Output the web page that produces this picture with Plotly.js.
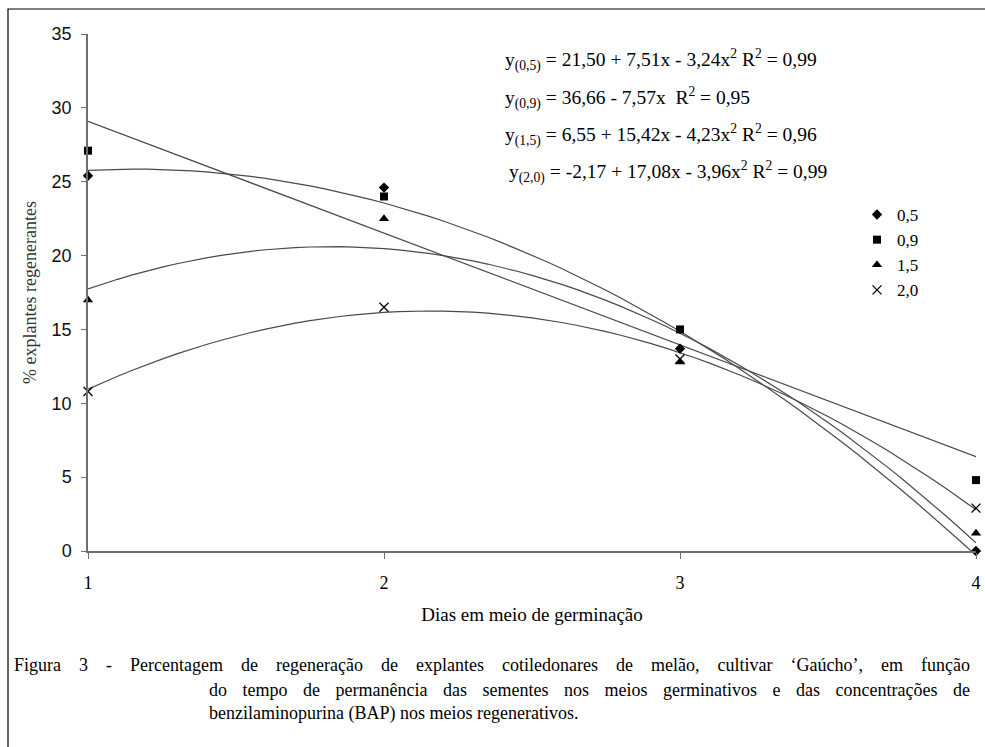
<!DOCTYPE html>
<html>
<head>
<meta charset="utf-8">
<script src="https://cdn.plot.ly/plotly-3.0.1.min.js"></script>
<style>html,body{margin:0;padding:0;background:#fff;}#chart{width:985px;height:747px;}</style>
</head>
<body>
<div id="chart"></div>
<script>
// ---- data ----
const days = [1, 2, 3, 4];
const conc = ['0,5', '0,9', '1,5', '2,0'];
const y05 = [25.4, 24.6, 13.7, 0.0];
const y09 = [27.1, 24.0, 15.0, 4.8];
const y15 = [17.0, 22.5, 12.8, 1.2];
const y20 = [10.8, 16.5, 13.0, 2.9];
// regression coefficients shown on the chart (a + b x + c x^2)
const coef05 = [21.50, 7.51, -3.24];
const coef09 = [36.66, -7.57, 0];
const coef15 = [6.55, 15.42, -4.23];
const coef20 = [-2.17, 17.08, -3.96];
const equations = [
  'y<sub>(0,5)</sub> = 21,50 + 7,51x - 3,24x<sup>2</sup> R<sup>2</sup> = 0,99',
  'y<sub>(0,9)</sub> = 36,66 - 7,57x &nbsp;R<sup>2</sup> = 0,95',
  'y<sub>(1,5)</sub> = 6,55 + 15,42x - 4,23x<sup>2</sup> R<sup>2</sup> = 0,96',
  'y<sub>(2,0)</sub> = -2,17 + 17,08x - 3,96x<sup>2</sup> R<sup>2</sup> = 0,99'
];
const xTitle = 'Dias em meio de germinação';
const yTitle = '% explantes regenerantes';
const caption = [
  'Figura 3 - Percentagem de regeneração de explantes cotiledonares de melão, cultivar ‘Gaúcho’, em função',
  'do tempo de permanência das sementes nos meios germinativos e das concentrações de',
  'benzilaminopurina (BAP) nos meios regenerativos.'
];

// ---- layout geometry ----
const W = 985, H = 747;
const M = {l: 88, r: 9, t: 34, b: 196};
const PW = W - M.l - M.r, PH = H - M.t - M.b;
const px = v => (v - M.l) / PW;
const py = v => (H - M.b - v) / PH;

const serif = '"Liberation Serif", Tinos, "Times New Roman", "DejaVu Serif", serif';
const sans = '"Liberation Sans", Arial, sans-serif';

function curve(c) {
  const xs = [], ys = [];
  for (let i = 0; i <= 60; i++) {
    const x = days[0] + (days[3] - days[0]) * i / 60;
    xs.push(x); ys.push(c[0] + c[1] * x + c[2] * x * x);
  }
  return {x: xs, y: ys};
}

const traces = [];
[coef05, coef09, coef15, coef20].forEach(c => {
  const cv = curve(c);
  traces.push({x: cv.x, y: cv.y, mode: 'lines', type: 'scatter', showlegend: false,
    hoverinfo: 'skip', line: {color: '#4a4a4a', width: 1.2}, cliponaxis: false});
});
const series = [y05, y09, y15, y20];
const symbols = ['diamond', 'square', 'triangle-up', 'x-thin-open'];
const sizes = [8, 8, 9, 9];
series.forEach((s, i) => {
  const mk = {symbol: symbols[i], size: sizes[i], color: '#000'};
  if (symbols[i] === 'x-thin-open') mk.line = {color: '#333', width: 1.3};
  traces.push({x: days, y: s, mode: 'markers', type: 'scatter', name: conc[i],
    legendgroup: 'g' + i, marker: mk, cliponaxis: false});
});

const annotations = equations.map((t, i) => ({
  text: t, xref: 'paper', yref: 'paper', x: px(i === 3 ? 507 : 503), y: py([60, 98, 135, 172][i]),
  xanchor: 'left', yanchor: 'middle', showarrow: false,
  font: {family: serif, size: 19.5, color: '#000'}
}));
caption.forEach((t, i) => {
  annotations.push({text: t, xref: 'paper', yref: 'paper', x: px(i === 0 ? 12 : 207),
    y: py([665, 690, 713][i]), xanchor: 'left', yanchor: 'middle', showarrow: false,
    font: {family: serif, size: 18, color: '#000'}});
});

const layout = {
  width: W, height: H,
  margin: M,
  paper_bgcolor: '#fff', plot_bgcolor: '#fff',
  showlegend: true,
  legend: {x: px(857), y: py(197), xanchor: 'left', yanchor: 'top',
    font: {family: serif, size: 17, color: '#000'}, tracegroupgap: 0,
    bgcolor: 'rgba(0,0,0,0)', itemwidth: 30},
  xaxis: {range: [1, 4], tickvals: days, ticktext: days.map(String),
    showline: true, linecolor: '#6e6e6e', linewidth: 1.5, showgrid: false, zeroline: false,
    ticks: 'outside', ticklen: 6, tickcolor: '#6e6e6e', tickwidth: 1, ticklabelstandoff: 9,
    tickfont: {family: serif, size: 18, color: '#000'},
    title: {text: xTitle, font: {family: serif, size: 19, color: '#000'}, standoff: 15}},
  yaxis: {range: [0, 35], dtick: 5, tick0: 0,
    showline: true, linecolor: '#6e6e6e', linewidth: 1.5, showgrid: false, zeroline: false,
    ticks: 'outside', ticklen: 5, tickcolor: '#6e6e6e', tickwidth: 1, ticklabelstandoff: 6,
    tickfont: {family: sans, size: 18, color: '#111'},
    title: {text: yTitle, font: {family: serif, size: 18, color: '#333'}, standoff: 10}},
  shapes: [{type: 'rect', xref: 'paper', yref: 'paper',
    x0: px(8), x1: px(995), y0: py(760), y1: py(9), line: {color: '#000', width: 1.2}}],
  annotations: annotations
};

Plotly.newPlot('chart', traces, layout, {displayModeBar: false}).then(gd => {
  // justify the first two caption lines so they end at the same right edge
  const right = 970;
  const rootLeft = gd.getBoundingClientRect().left;
  gd.querySelectorAll('.annotation-text').forEach(t => {
    const s = t.textContent;
    if (s !== caption[0] && s !== caption[1]) return;
    const gaps = (s.match(/ /g) || []).length;
    const b0 = t.getBoundingClientRect();
    const extra = (right - (b0.right - rootLeft)) / gaps;
    if (!(extra > 0)) return;
    t.setAttribute('word-spacing', extra.toFixed(2));
    const b1 = t.getBoundingClientRect();
    const shift = b0.left - b1.left;
    const x = parseFloat(t.getAttribute('x') || '0');
    t.setAttribute('x', (x + shift).toFixed(2));
  });
});
</script>
</body>
</html>
